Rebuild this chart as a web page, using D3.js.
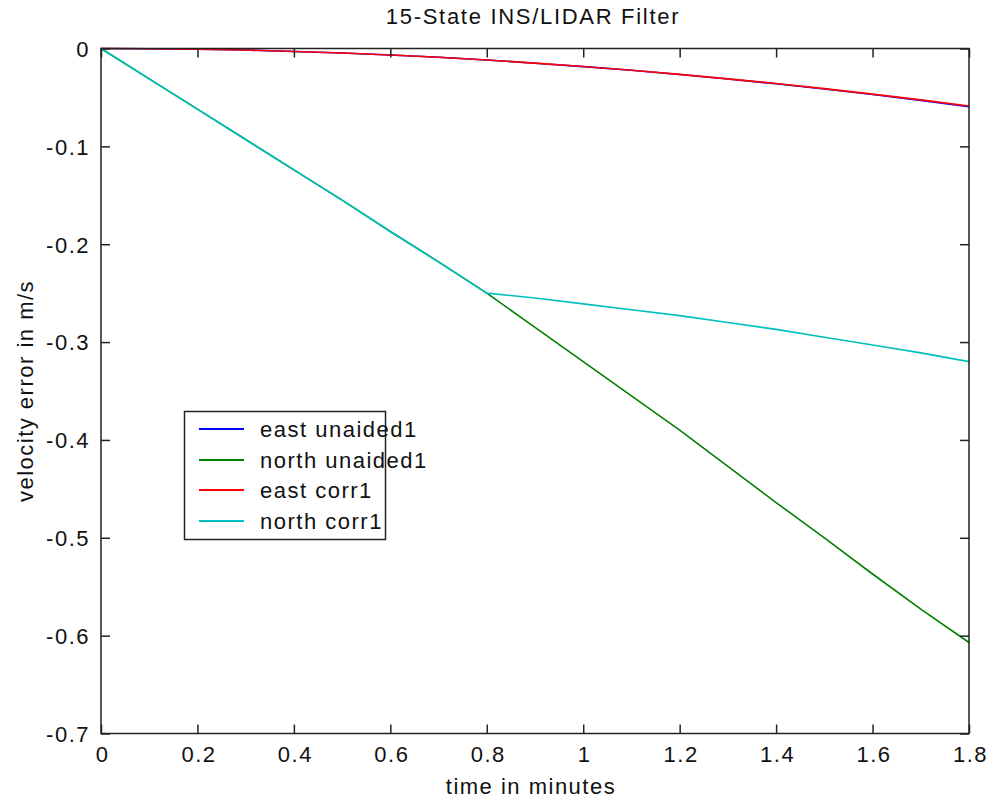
<!DOCTYPE html>
<html><head><meta charset="utf-8">
<script src="https://cdn.jsdelivr.net/npm/d3@7"></script>
<style>
body{margin:0;background:#fff;}
text{font-family:"Liberation Sans",Arial,sans-serif;fill:#111;}
</style></head>
<body><svg id="c" width="991" height="802"></svg>
<script>
const title = "15-State INS/LIDAR Filter";
const xLabel = "time in minutes";
const yLabel = "velocity error in m/s";
const xTicks = [0,0.2,0.4,0.6,0.8,1,1.2,1.4,1.6,1.8];
const yTicks = [0,-0.1,-0.2,-0.3,-0.4,-0.5,-0.6,-0.7];
const t = [0,0.1,0.2,0.3,0.4,0.5,0.6,0.7,0.8,0.9,1.0,1.1,1.2,1.3,1.4,1.5,1.6,1.7,1.8];
const eastUnaided = [0,-0.0002,-0.0007,-0.0016,-0.003,-0.0046,-0.0066,-0.009,-0.0118,-0.015,-0.0185,-0.0223,-0.0266,-0.0312,-0.0361,-0.0414,-0.047,-0.053,-0.0595];
const northUnaided = [0,-0.031,-0.062,-0.093,-0.124,-0.155,-0.187,-0.218,-0.25,-0.285,-0.32,-0.355,-0.39,-0.427,-0.464,-0.5,-0.537,-0.573,-0.607];
const eastCorr = [0,-0.0002,-0.0007,-0.0016,-0.003,-0.0046,-0.0066,-0.009,-0.0117,-0.0149,-0.0184,-0.0222,-0.0264,-0.031,-0.0358,-0.041,-0.0466,-0.0525,-0.0588];
const northCorr = [0,-0.031,-0.062,-0.093,-0.124,-0.155,-0.187,-0.218,-0.25,-0.255,-0.261,-0.267,-0.273,-0.28,-0.287,-0.295,-0.303,-0.311,-0.32];
const seriesNames = ["east unaided1","north unaided1","east corr1","north corr1"];
const seriesColors = ["#0000ff","#008000","#ff0000","#00bfbf"];
const seriesValues = [eastUnaided, northUnaided, eastCorr, northCorr];

const svg = d3.select("#c");
const L=101, R=969, T=48.5, B=733.5;
const x = d3.scaleLinear().domain([0,1.8]).range([L,R]);
const y = d3.scaleLinear().domain([-0.7,0]).range([B,T]);
const fs = "22px", ls = "1.5px";

// lines
const line = d3.line().x((d,i)=>x(t[i])).y(d=>y(d));
seriesValues.forEach((vals,k)=>{
  svg.append("path").datum(vals).attr("d",line)
    .attr("fill","none").attr("stroke",seriesColors[k]).attr("stroke-width",1.6);
});

// axes (box with inward ticks)
const tl = 9;
const ax = svg.append("g").attr("stroke","#222").attr("stroke-width",1.5).attr("fill","none");
ax.append("rect").attr("x",L).attr("y",T).attr("width",R-L).attr("height",B-T);
const xb = d3.axisBottom(x).tickValues(xTicks).tickSizeInner(-tl).tickSizeOuter(0).tickPadding(13).tickFormat(d=>String(d));
const gx = svg.append("g").attr("transform",`translate(0,${B})`).call(xb);
const xt = d3.axisTop(x).tickValues(xTicks).tickSizeInner(-tl).tickSizeOuter(0).tickFormat("");
const gxt = svg.append("g").attr("transform",`translate(0,${T})`).call(xt);
const yl = d3.axisLeft(y).tickValues(yTicks).tickSizeInner(-tl).tickSizeOuter(0).tickPadding(11).tickFormat(d=>String(d));
const gy = svg.append("g").attr("transform",`translate(${L},0)`).call(yl);
const yr = d3.axisRight(y).tickValues(yTicks).tickSizeInner(-tl).tickSizeOuter(0).tickFormat("");
const gyr = svg.append("g").attr("transform",`translate(${R},0)`).call(yr);
[gx,gxt,gy,gyr].forEach(g=>{
  g.select(".domain").remove();
  g.selectAll(".tick line").attr("stroke","#222").attr("stroke-width",1.5);
  g.selectAll(".tick text").attr("fill","#111").style("font-size",fs).style("letter-spacing",ls)
    .style("font-family","'Liberation Sans',Arial,sans-serif");
});
gx.selectAll(".tick text").attr("dy","0.71em").attr("dx","1px");
gy.selectAll(".tick text").attr("dy","0.36em");

// title and labels
svg.append("text").attr("x",533).attr("y",24).attr("text-anchor","middle")
  .style("font-size","22px").style("letter-spacing","1.7px").text(title);
svg.append("text").attr("x",531).attr("y",794).attr("text-anchor","middle")
  .style("font-size",fs).style("letter-spacing",ls).text(xLabel);
svg.append("text").attr("transform",`translate(33,391) rotate(-90)`).attr("text-anchor","middle")
  .style("font-size",fs).style("letter-spacing",ls).text(yLabel);

// legend
const lg = svg.append("g");
lg.append("rect").attr("x",184.5).attr("y",411.5).attr("width",201).attr("height",128)
  .attr("fill","#fff").attr("stroke","#222").attr("stroke-width",1.5);
seriesNames.forEach((n,k)=>{
  const yy = Math.round(429 + k*30.5);
  lg.append("line").attr("x1",199).attr("x2",244).attr("y1",yy).attr("y2",yy)
    .attr("stroke",seriesColors[k]).attr("stroke-width",2);
  lg.append("text").attr("x",260).attr("y",yy).attr("dy","0.36em")
    .style("font-size",fs).style("letter-spacing",ls).text(n);
});
</script></body></html>
